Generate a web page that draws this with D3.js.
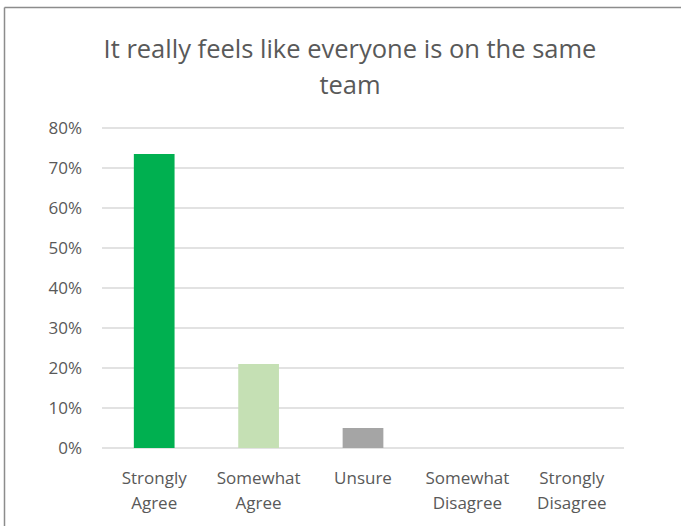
<!DOCTYPE html>
<html>
<head>
<meta charset="utf-8">
<script src="https://cdn.jsdelivr.net/npm/d3@7"></script>
<style>
  body { margin: 0; background: #fff; }
  text { font-family: "Open Sans", sans-serif; fill: #595959; }
</style>
</head>
<body>
<svg id="chart"></svg>
<script>
// chart data
const categories = ["Strongly Agree", "Somewhat Agree", "Unsure", "Somewhat Disagree", "Strongly Disagree"];
const values = [0.735, 0.21, 0.05, 0, 0];
const barColors = ["#00b050", "#c5e0b4", "#a5a5a5", "#a5a5a5", "#a5a5a5"];
const yTicks = [0, 0.1, 0.2, 0.3, 0.4, 0.5, 0.6, 0.7, 0.8];
const titleLines = ["It really feels like everyone is on the same", "team"];

const width = 681;
const height = 526;

const svg = d3.select("#chart")
    .attr("width", width)
    .attr("height", height);

// outer frame (only top + left visible in the crop)
svg.append("line")
    .attr("x1", 4.5).attr("x2", width)
    .attr("y1", 7.5).attr("y2", 7.5)
    .attr("stroke", "#8c8c8c").attr("stroke-width", 1.5);
svg.append("line")
    .attr("x1", 4.5).attr("x2", 4.5)
    .attr("y1", 7.5).attr("y2", height)
    .attr("stroke", "#8c8c8c").attr("stroke-width", 1.5);

const margin = { top: 128, right: 57, bottom: 78, left: 102 };
const innerW = width - margin.left - margin.right;
const innerH = height - margin.top - margin.bottom;

const g = svg.append("g")
    .attr("transform", `translate(${margin.left},${margin.top})`);

const x = d3.scaleBand()
    .domain(categories)
    .range([0, innerW])
    .paddingInner(0.61)
    .paddingOuter(0.305);

const y = d3.scaleLinear()
    .domain([0, 0.8])
    .range([innerH, 0]);

// title
svg.append("text")
    .attr("x", 350)
    .attr("text-anchor", "middle")
    .style("font-size", "25.5px")
    .style("fill", "#595959")
    .selectAll("tspan")
    .data(titleLines)
    .join("tspan")
    .attr("x", 350)
    .attr("y", (d, i) => 58 + i * 36)
    .text(d => d);

// gridlines
g.append("g")
    .selectAll("line")
    .data(yTicks)
    .join("line")
    .attr("x1", 0).attr("x2", innerW)
    .attr("y1", d => y(d)).attr("y2", d => y(d))
    .attr("stroke", "#d9d9d9")
    .attr("stroke-width", 1.5);

// y axis labels
const yAxis = d3.axisLeft(y)
    .tickValues(yTicks)
    .tickFormat(d3.format(".0%"))
    .tickSize(0)
    .tickPadding(20);
const yAxisG = g.append("g").call(yAxis);
yAxisG.select(".domain").remove();
yAxisG.selectAll("text")
    .style("font-size", "17px")
    .style("font-family", "\"Open Sans\", sans-serif")
    .attr("fill", "#595959");

// bars
g.selectAll(".bar")
    .data(values)
    .join("rect")
    .attr("class", "bar")
    .attr("x", (d, i) => x(categories[i]))
    .attr("width", x.bandwidth())
    .attr("y", d => y(d))
    .attr("height", d => innerH - y(d))
    .attr("fill", (d, i) => barColors[i]);

// x axis labels (two lines)
const xLabels = g.append("g")
    .attr("transform", `translate(0,${innerH})`)
    .selectAll("text")
    .data(categories)
    .join("text")
    .attr("text-anchor", "middle")
    .style("font-size", "17px");

xLabels.selectAll("tspan")
    .data(d => d.split(" ").map(w => ({ w, cat: d })))
    .join("tspan")
    .attr("x", d => x(d.cat) + x.bandwidth() / 2)
    .attr("y", (d, i) => 36 + i * 25)
    .text(d => d.w);
</script>
</body>
</html>
